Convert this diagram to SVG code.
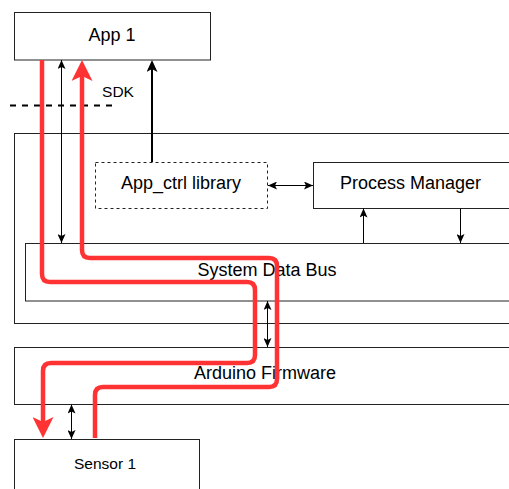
<svg xmlns="http://www.w3.org/2000/svg" width="509" height="489" viewBox="0 0 509 489">
  <style>
    .box { fill: #ffffff; stroke: #222222; stroke-width: 1; }
    .dashbox { fill: #ffffff; stroke: #222222; stroke-width: 1; stroke-dasharray: 3 3; }
    .label { font-family: "Liberation Sans", Arial, Helvetica, sans-serif; font-size: 18px; fill: #000000; text-anchor: middle; }
    .small { font-size: 15.5px; }
    .thin { fill: none; stroke: #000000; stroke-width: 1; }
    .thick { fill: none; stroke: #000000; stroke-width: 2; }
    .flow { fill: none; stroke: #ff3333; stroke-width: 4.5; stroke-linejoin: round; }
  </style>
  <defs>
    <marker id="arrowThin" markerUnits="userSpaceOnUse" viewBox="0 0 9 8" markerWidth="9" markerHeight="8" refX="9" refY="4" orient="auto-start-reverse">
      <path d="M0,0 L9,4 L0,8 L2,4 Z" fill="#000000"/>
    </marker>
    <marker id="arrowThick" markerUnits="userSpaceOnUse" viewBox="0 0 12 11" markerWidth="12" markerHeight="11" refX="3" refY="5.5" orient="auto">
      <path d="M0,0 L12,5.5 L0,11 L3,5.5 Z" fill="#000000"/>
    </marker>
    <marker id="arrowFlow" markerUnits="userSpaceOnUse" viewBox="0 0 21 21" markerWidth="21" markerHeight="21" refX="5" refY="10.5" orient="auto">
      <path d="M0,0 L21,10.5 L0,21 L5,10.5 Z" fill="#ff3333"/>
    </marker>
  </defs>

  <!-- outer platform container -->
  <g id="platform">
    <rect class="box" x="14.5" y="133.5" width="520" height="190"/>
  </g>

  <g id="app1">
    <rect class="box" x="14.5" y="12.5" width="196" height="47.5"/>
    <text class="label" x="112" y="41">App 1</text>
  </g>

  <g id="sdk">
    <line x1="10" y1="105.5" x2="114" y2="105.5" stroke="#000000" stroke-width="2" stroke-dasharray="6 6"/>
    <text class="label small" x="118" y="97">SDK</text>
  </g>

  <g id="app-ctrl-library">
    <rect class="dashbox" x="95.5" y="162.5" width="172" height="46"/>
    <text class="label" x="181" y="189">App_ctrl library</text>
  </g>

  <g id="process-manager">
    <rect class="box" x="313.5" y="162.5" width="210" height="46"/>
    <text class="label" x="410.5" y="189">Process Manager</text>
  </g>

  <g id="system-data-bus">
    <rect class="box" x="25.5" y="243.5" width="500" height="57.5"/>
    <text class="label" x="267" y="276">System Data Bus</text>
  </g>

  <g id="arduino-firmware">
    <rect class="box" x="14.5" y="347.5" width="520" height="57"/>
    <text class="label" x="265" y="379">Arduino Firmware</text>
  </g>

  <g id="sensor1">
    <rect class="box" x="14.5" y="439.5" width="185" height="70"/>
    <text class="label small" x="105" y="469">Sensor 1</text>
  </g>

  <g id="connectors">
    <!-- control links -->
    <line class="thin" x1="61.5" y1="60" x2="61.5" y2="243" marker-start="url(#arrowThin)" marker-end="url(#arrowThin)"/>
    <line class="thick" x1="152" y1="162" x2="152" y2="69" marker-end="url(#arrowThick)"/>
    <line class="thin" x1="268" y1="185.5" x2="313" y2="185.5" marker-start="url(#arrowThin)" marker-end="url(#arrowThin)"/>
    <line class="thin" x1="363.5" y1="243" x2="363.5" y2="208.5" marker-end="url(#arrowThin)"/>
    <line class="thin" x1="460.5" y1="208.5" x2="460.5" y2="243" marker-end="url(#arrowThin)"/>
    <line class="thin" x1="267.5" y1="301" x2="267.5" y2="347" marker-start="url(#arrowThin)" marker-end="url(#arrowThin)"/>
    <line class="thin" x1="71.5" y1="404.5" x2="71.5" y2="439" marker-start="url(#arrowThin)" marker-end="url(#arrowThin)"/>

    <!-- data flow: app down to sensor -->
    <path class="flow" d="M42,60 V274 Q42,282 50,282 H247 Q255,282 255,290 V355 Q255,363 247,363 H51 Q43,363 43,371 V422" marker-end="url(#arrowFlow)"/>
    <!-- data flow: sensor up to app -->
    <path class="flow" d="M95,438 V395 Q95,387 103,387 H269 Q277,387 277,379 V266 Q277,258 269,258 H90 Q82,258 82,250 V76" marker-end="url(#arrowFlow)"/>
  </g>
</svg>
